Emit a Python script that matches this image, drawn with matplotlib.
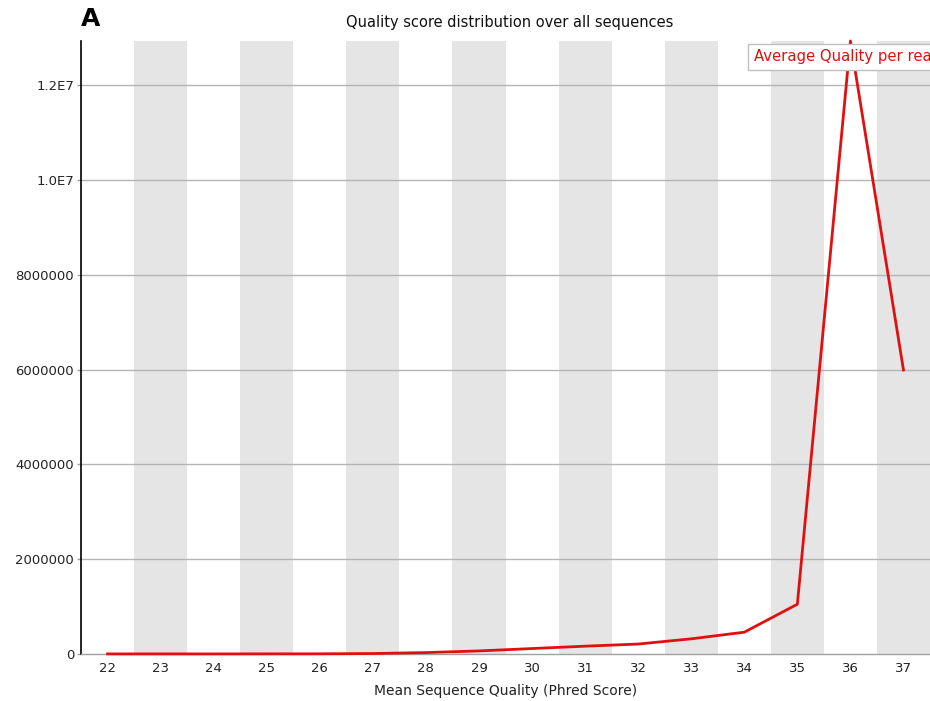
import matplotlib
matplotlib.use("Agg")
import matplotlib.pyplot as plt

quality = [22, 23, 24, 25, 26, 27, 28, 29, 30, 31, 32, 33, 34, 35, 36, 37]
counts = [2000, 2000, 2000, 3000, 4000, 10000, 30000, 65000, 115000, 165000, 210000,
          320000, 460000, 1050000, 12930000, 5990000]
ytick_vals = [0, 2000000, 4000000, 6000000, 8000000, 10000000, 12000000]
ytick_labels = ["0", "2000000", "4000000", "6000000", "8000000", "1.0E7", "1.2E7"]

fig = plt.figure(figsize=(9.3, 7.01), dpi=100)
ax = fig.add_axes([81/930, 1 - 654/701, (930-81)/930, (654-41)/701])

ax.set_xlim(21.5, 37.5)
ax.set_ylim(0, 12.93e6)

for q in quality:
    if (q - 22) % 2 == 1:
        ax.axvspan(q - 0.5, q + 0.5, color="#e5e5e5", lw=0, zorder=0)

for v in ytick_vals[1:]:
    ax.axhline(v, color="#b4b4b4", lw=1, zorder=1)

ax.plot(quality, counts, color="#e01010", lw=2, zorder=3, clip_on=False)

ax.set_xticks(quality)
ax.set_xticklabels([str(q) for q in quality])
ax.set_yticks(ytick_vals)
ax.set_yticklabels(ytick_labels)
ax.tick_params(axis="x", length=0, labelsize=9.5, colors="#222222", pad=6)
ax.tick_params(axis="y", length=3, width=1, color="#a0a0a0", labelsize=9.5,
               labelcolor="#222222", pad=2)

for s in ["top", "right"]:
    ax.spines[s].set_visible(False)
ax.spines["left"].set_color("black")
ax.spines["left"].set_linewidth(1.2)
ax.spines["bottom"].set_color("#a0a0a0")
ax.spines["bottom"].set_linewidth(1)

ax.set_xlabel("Mean Sequence Quality (Phred Score)", fontsize=10, color="#222222", labelpad=6)

fig.text(510/930, 1 - 23/701, "Quality score distribution over all sequences",
         ha="center", va="center", fontsize=10.5, color="#111111")
fig.text(81/930, 1 - 19/701, "A", ha="left", va="center", fontsize=18,
         fontweight="bold", color="black")

fig.text(754/930, 1 - 57/701, "Average Quality per read", ha="left", va="center",
         fontsize=10.7, color="#e01010", zorder=5,
         bbox=dict(boxstyle="square,pad=0.4", fc="white", ec="#c0c0c0", lw=1))

fig.savefig("out.png", dpi=100)
